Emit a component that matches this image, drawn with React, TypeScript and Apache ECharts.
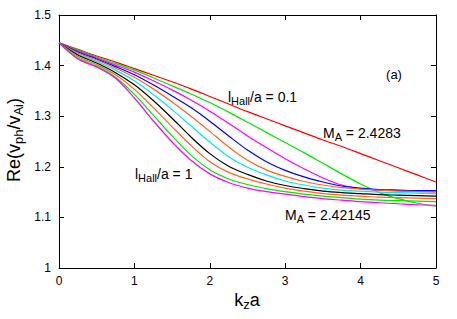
import React, { useEffect, useRef } from 'react';
import * as echarts from 'echarts';

const kza = [0, 0.25, 0.5, 0.75, 1, 1.25, 1.5, 1.75, 2, 2.25, 2.5, 2.75, 3, 3.25, 3.5, 3.75, 4, 4.25, 4.5, 4.75, 5];

const l01 = [1.445, 1.432, 1.419, 1.407, 1.394, 1.381, 1.368, 1.354, 1.339, 1.324, 1.309, 1.295, 1.281, 1.267, 1.253, 1.240, 1.226, 1.212, 1.198, 1.184, 1.170];
const l02 = [1.445, 1.431, 1.417, 1.404, 1.391, 1.376, 1.360, 1.344, 1.327, 1.308, 1.288, 1.268, 1.248, 1.228, 1.207, 1.186, 1.166, 1.149, 1.137, 1.128, 1.122];
const l03 = [1.445, 1.429, 1.415, 1.401, 1.387, 1.370, 1.352, 1.332, 1.310, 1.286, 1.261, 1.238, 1.216, 1.196, 1.178, 1.164, 1.157, 1.154, 1.153, 1.152, 1.152];
const l04 = [1.445, 1.427, 1.413, 1.398, 1.382, 1.362, 1.340, 1.317, 1.290, 1.261, 1.233, 1.210, 1.193, 1.180, 1.170, 1.162, 1.158, 1.155, 1.154, 1.153, 1.153];
const l05 = [1.445, 1.425, 1.411, 1.395, 1.377, 1.354, 1.328, 1.300, 1.270, 1.239, 1.213, 1.194, 1.181, 1.171, 1.164, 1.159, 1.156, 1.154, 1.152, 1.151, 1.150];
const l06 = [1.445, 1.423, 1.408, 1.391, 1.370, 1.343, 1.313, 1.281, 1.249, 1.220, 1.199, 1.184, 1.172, 1.164, 1.158, 1.154, 1.152, 1.150, 1.149, 1.148, 1.147];
const l07 = [1.445, 1.421, 1.405, 1.386, 1.362, 1.331, 1.296, 1.259, 1.226, 1.201, 1.185, 1.172, 1.163, 1.157, 1.152, 1.149, 1.147, 1.145, 1.144, 1.143, 1.142];
const l08 = [1.445, 1.418, 1.402, 1.382, 1.353, 1.317, 1.279, 1.242, 1.210, 1.189, 1.176, 1.166, 1.158, 1.152, 1.147, 1.144, 1.142, 1.140, 1.139, 1.138, 1.137];
const l09 = [1.445, 1.415, 1.399, 1.377, 1.343, 1.302, 1.261, 1.223, 1.194, 1.176, 1.165, 1.157, 1.151, 1.146, 1.142, 1.139, 1.136, 1.134, 1.133, 1.132, 1.131];
const l10 = [1.445, 1.413, 1.397, 1.375, 1.336, 1.291, 1.249, 1.213, 1.186, 1.169, 1.158, 1.151, 1.146, 1.141, 1.137, 1.134, 1.131, 1.129, 1.127, 1.125, 1.124];

const seriesNames = ['0.1', '0.2', '0.3', '0.4', '0.5', '0.6', '0.7', '0.8', '0.9', '1'];
const seriesValues = [l01, l02, l03, l04, l05, l06, l07, l08, l09, l10];
const seriesColors = ['#ff0000', '#00e600', '#ff00ff', '#0000ff', '#ff6420', '#00e8e8', '#000000', '#ff6420', '#00e600', '#ff00ff'];

const xTicks = [0, 1, 2, 3, 4, 5];
const yTicks = [1, 1.1, 1.2, 1.3, 1.4, 1.5];

const FONT = 'Liberation Sans, Arial, Helvetica, sans-serif';

export default function App() {
  const ref = useRef<HTMLDivElement>(null);
  useEffect(() => {
    if (!ref.current) return;
    const chart = echarts.init(ref.current, undefined, { renderer: 'svg' });
    const axisCommon = {
      axisLine: { show: true, onZero: false, lineStyle: { color: '#000', width: 1 } },
      axisTick: { show: true, inside: true, length: 5, lineStyle: { color: '#000', width: 1 } },
      splitLine: { show: false },
    };
    const sub = { fontSize: 11, fontFamily: FONT, color: '#000', padding: [7, 0, 0, 0] };
    const main = { fontSize: 14, fontFamily: FONT, color: '#000' };
    chart.setOption({
      animation: false,
      grid: { left: 59, right: 21, top: 15, bottom: 51 },
      xAxis: [
        {
          type: 'value', min: xTicks[0], max: xTicks[xTicks.length - 1], interval: 1, position: 'bottom',
          ...axisCommon,
          axisLabel: { color: '#000', fontSize: 12, fontFamily: FONT, margin: 7 },
        },
        {
          type: 'value', min: xTicks[0], max: xTicks[xTicks.length - 1], interval: 1, position: 'top',
          ...axisCommon,
          axisLabel: { show: false },
        },
      ],
      yAxis: [
        {
          type: 'value', min: yTicks[0], max: yTicks[yTicks.length - 1], interval: 0.1, position: 'left',
          ...axisCommon,
          axisLabel: {
            color: '#000', fontSize: 12, fontFamily: FONT, margin: 8,
            formatter: (v: number) => (Math.abs(v - 1) < 1e-9 ? '1' : v.toFixed(1)),
          },
        },
        {
          type: 'value', min: yTicks[0], max: yTicks[yTicks.length - 1], interval: 0.1, position: 'right',
          ...axisCommon,
          axisLabel: { show: false },
        },
      ],
      series: seriesValues.map((vals, i) => ({
        name: seriesNames[i],
        type: 'line',
        data: kza.map((x, j) => [x, vals[j]]),
        smooth: 0.3,
        showSymbol: false,
        symbol: 'none',
        lineStyle: { color: seriesColors[i], width: 1.2 },
        itemStyle: { color: seriesColors[i] },
        z: 2 + i,
      })),
      graphic: [
        {
          type: 'text',
          rotation: Math.PI / 2,
          x: 14, y: 140,
          style: {
            text: '{m|Re(v}{s|ph}{m|/v}{s|Ai}{m|)}',
            rich: { m: { fontSize: 18, fontFamily: FONT, color: '#000' }, s: { fontSize: 13, fontFamily: FONT, color: '#000', padding: [9, 0, 0, 0] } },
            align: 'center', verticalAlign: 'middle',
          },
        },
        {
          type: 'text', x: 247, y: 300,
          style: {
            text: '{m|k}{s|z}{m|a}',
            rich: { m: { fontSize: 18, fontFamily: FONT, color: '#000' }, s: { fontSize: 13, fontFamily: FONT, color: '#000', padding: [9, 0, 0, 0] } },
            align: 'center', verticalAlign: 'middle',
          },
        },
        {
          type: 'text', x: 394, y: 74,
          style: { text: '(a)', fontSize: 13, fontFamily: FONT, fill: '#000', align: 'center', verticalAlign: 'middle' },
        },
        {
          type: 'text', x: 228, y: 97,
          style: { text: '{m|l}{s|Hall}{m|/a = 0.1}', rich: { m: main, s: sub }, align: 'left', verticalAlign: 'middle' },
        },
        {
          type: 'text', x: 323, y: 133,
          style: { text: '{m|M}{s|A}{m| = 2.4283}', rich: { m: main, s: sub }, align: 'left', verticalAlign: 'middle' },
        },
        {
          type: 'text', x: 135, y: 174,
          style: { text: '{m|l}{s|Hall}{m|/a = 1}', rich: { m: main, s: sub }, align: 'left', verticalAlign: 'middle' },
        },
        {
          type: 'text', x: 285, y: 215,
          style: { text: '{m|M}{s|A}{m| = 2.42145}', rich: { m: main, s: sub }, align: 'left', verticalAlign: 'middle' },
        },
      ],
    });
    return () => chart.dispose();
  }, []);
  return <div ref={ref} style={{ position: 'fixed', left: 0, top: 0, width: 457, height: 319, background: '#fff' }} />;
}
